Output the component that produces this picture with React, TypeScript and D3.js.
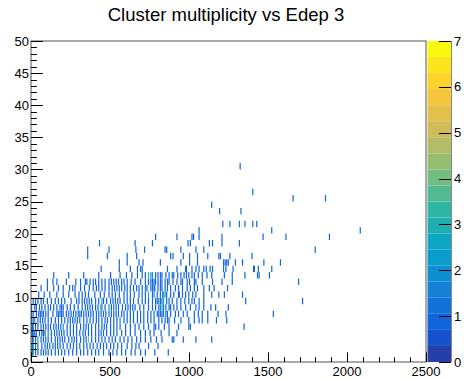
import React from "react";
import * as d3 from "d3";

// ---- data -------------------------------------------------------------
const title = "Cluster multiplicity vs Edep 3";
const xTicks = [0, 500, 1000, 1500, 2000, 2500];
const yTicks = [0, 5, 10, 15, 20, 25, 30, 35, 40, 45, 50];
const zTicks = [0, 1, 2, 3, 4, 5, 6, 7];
const edepBinWidth = 5;
const zMax = 7;

// edep values of occupied cells, one list per multiplicity bin (index = multiplicity)
const multRows: number[][] = [
  [],
  [0, 8, 13, 25, 44, 60, 76, 92, 108, 128, 150, 170, 193, 212, 235, 262, 288, 310, 331, 358, 384, 405, 426, 455, 490, 515, 543, 570, 596, 630, 659, 690, 723, 780, 867],
  [0, 8, 13, 28, 44, 66, 87, 103, 119, 135, 150, 166, 182, 203, 225, 246, 267, 288, 309, 330, 352, 373, 394, 415, 437, 458, 479, 500, 521, 548, 574, 606, 638, 660, 680, 740, 803],
  [0, 8, 13, 28, 44, 60, 76, 92, 108, 128, 150, 166, 182, 198, 214, 235, 256, 272, 288, 310, 331, 346, 362, 384, 405, 426, 447, 468, 490, 511, 532, 560, 585, 612, 638, 665, 691, 720, 755, 790, 829, 892, 903, 960, 1041, 1140],
  [0, 8, 13, 24, 34, 50, 66, 76, 87, 108, 129, 145, 161, 177, 193, 209, 225, 246, 267, 288, 309, 325, 341, 362, 384, 405, 426, 442, 458, 479, 500, 521, 543, 570, 596, 627, 659, 690, 723, 750, 776, 822, 870, 924],
  [0, 8, 13, 28, 44, 60, 76, 92, 108, 124, 140, 156, 172, 188, 203, 225, 246, 267, 288, 310, 331, 346, 362, 384, 405, 426, 447, 463, 479, 500, 521, 543, 564, 595, 627, 655, 680, 712, 744, 776, 786, 808, 840, 871, 930, 998, 1009, 1348],
  [2, 13, 23, 40, 55, 70, 87, 108, 129, 150, 172, 193, 214, 230, 246, 262, 278, 294, 309, 330, 352, 373, 394, 410, 426, 447, 468, 484, 500, 521, 543, 564, 585, 606, 627, 648, 670, 690, 712, 735, 755, 776, 808, 829, 845, 861, 871, 905, 945, 998, 1030, 1062, 1083, 1115, 1170, 1236],
  [0, 13, 34, 45, 55, 66, 76, 92, 108, 135, 161, 172, 182, 193, 203, 220, 235, 251, 267, 283, 299, 315, 331, 346, 362, 378, 394, 410, 426, 442, 458, 474, 490, 505, 521, 537, 553, 570, 585, 606, 627, 648, 670, 690, 712, 735, 755, 776, 797, 808, 818, 829, 839, 850, 861, 882, 914, 931, 960, 988, 1030, 1058, 1083, 1115, 1180, 1232, 1533],
  [0, 20, 34, 50, 66, 87, 108, 124, 140, 161, 182, 193, 203, 225, 246, 272, 299, 320, 341, 357, 373, 389, 405, 421, 437, 447, 468, 490, 505, 521, 537, 553, 575, 596, 612, 627, 643, 659, 685, 712, 740, 765, 786, 808, 818, 829, 839, 850, 871, 882, 903, 924, 945, 977, 1009, 1041, 1062, 1094, 1136, 1168, 1249],
  [10, 28, 44, 60, 76, 103, 129, 150, 172, 193, 214, 250, 288, 304, 320, 336, 352, 368, 384, 405, 426, 445, 458, 479, 500, 516, 532, 548, 564, 585, 606, 627, 649, 675, 702, 723, 744, 765, 786, 797, 808, 818, 829, 839, 855, 871, 892, 924, 945, 970, 998, 1015, 1030, 1062, 1094, 1355, 1715],
  [45, 82, 119, 160, 200, 235, 278, 300, 320, 341, 362, 400, 437, 463, 490, 511, 532, 558, 585, 606, 627, 654, 680, 700, 723, 744, 769, 776, 797, 818, 833, 839, 846, 856, 880, 903, 931, 939, 956, 975, 998, 1020, 1041, 1094, 1140, 1189, 1221, 1338],
  [60, 100, 140, 170, 203, 242, 260, 278, 310, 337, 365, 390, 410, 426, 447, 468, 490, 511, 527, 543, 558, 574, 590, 606, 627, 649, 665, 680, 700, 723, 733, 755, 765, 776, 782, 803, 818, 829, 845, 861, 882, 914, 931, 956, 985, 1009, 1030, 1051, 1090, 1126, 1157, 1242],
  [104, 135, 161, 220, 282, 310, 341, 352, 373, 390, 405, 426, 447, 468, 490, 505, 521, 537, 553, 570, 585, 606, 630, 659, 690, 723, 740, 755, 765, 776, 786, 800, 818, 829, 845, 861, 871, 897, 924, 945, 956, 988, 1003, 1030, 1041, 1083, 1147, 1206, 1274, 1694],
  [140, 235, 330, 426, 500, 560, 600, 638, 670, 702, 720, 744, 755, 765, 769, 786, 803, 816, 829, 850, 870, 892, 903, 925, 945, 965, 981, 998, 1015, 1030, 1058, 1083, 1110, 1140, 1221, 1274, 1352, 1433, 1444, 1507],
  [443, 557, 627, 670, 691, 702, 861, 924, 977, 981, 1015, 1041, 1062, 1090, 1109, 1132, 1147, 1215, 1232, 1278, 1405, 1414, 1435, 1520],
  [558, 606, 680, 706, 818, 945, 1000, 1051, 1215, 1227, 1238, 1249, 1291, 1338, 1473, 1575],
  [358, 483, 606, 668, 880, 899, 964, 1000, 1051, 1115, 1185, 1196, 1257, 1397],
  [358, 490, 663, 716, 846, 856, 945, 1041, 1094, 1798],
  [430, 658, 769, 990, 1007, 1126, 1145, 1206, 1316],
  [789, 922, 1015, 1026, 1064, 1206, 1469, 1613, 1885],
  [1064, 1524, 2082],
  [1213, 1258, 1317, 1351, 1404, 1427],
  [],
  [1192, 1327],
  [1141],
  [1656, 1860],
  [1404],
  [],
  [],
  [],
  [1321],
];

// cells with more than one entry: [edep, multiplicity, count]
const hotCells: [number, number, number][] = [
  [0, 1, 3], [0, 2, 3], [0, 3, 7], [0, 4, 2], [0, 5, 2], [13, 1, 2], [13, 2, 2],
  [23, 6, 2], [44, 3, 2], [108, 4, 2], [203, 5, 2], [309, 7, 2], [362, 3, 4],
  [437, 8, 4], [445, 9, 3], [490, 8, 2], [564, 6, 2], [723, 11, 2], [744, 10, 3],
  [744, 13, 3], [755, 13, 2], [776, 10, 2], [808, 9, 2], [818, 8, 2], [829, 8, 3],
  [839, 9, 3], [839, 10, 3], [846, 10, 2],
];

// ---- ROOT kBird palette ----------------------------------------------
const birdStops = [0.0, 0.125, 0.25, 0.375, 0.5, 0.625, 0.75, 0.875, 1.0];
const birdRed = [0.2082, 0.0592, 0.078, 0.0232, 0.1802, 0.5301, 0.8186, 0.9956, 0.9764];
const birdGreen = [0.1664, 0.3599, 0.5041, 0.6419, 0.7178, 0.7492, 0.7328, 0.7862, 0.9832];
const birdBlue = [0.5293, 0.8684, 0.8385, 0.7914, 0.6425, 0.4662, 0.3499, 0.1968, 0.0539];

function buildGradient(n: number): string[] {
  const out: string[] = [];
  for (let g = 1; g < birdStops.length; g++) {
    const nG = Math.floor(n * birdStops[g]) - Math.floor(n * birdStops[g - 1]);
    for (let c = 0; c < nG; c++) {
      const t = c / nG;
      const r = birdRed[g - 1] + t * (birdRed[g] - birdRed[g - 1]);
      const gg = birdGreen[g - 1] + t * (birdGreen[g] - birdGreen[g - 1]);
      const b = birdBlue[g - 1] + t * (birdBlue[g] - birdBlue[g - 1]);
      out.push(d3.rgb(r * 255, gg * 255, b * 255).formatHex());
    }
  }
  return out;
}
const gradient = buildGradient(255);
const nContours = 20;
function levelColor(level: number): string {
  let idx = Math.floor(((level + 0.99) * gradient.length) / nContours);
  if (idx > gradient.length - 1) idx = gradient.length - 1;
  return gradient[idx];
}
function zColor(z: number): string {
  let level = Math.floor(0.01 + (z * nContours) / zMax);
  if (level > nContours - 1) level = nContours - 1;
  return levelColor(level);
}

// ---- layout ------------------------------------------------------------
const W = 471, H = 379;
const X0 = 31, X1 = 426, Y0 = 41, Y1 = 362;
const PX0 = 427.5, PX1 = 451;
const FONT = "'Liberation Sans', Arial, Helvetica, sans-serif";

export default function App() {
  const x = d3.scaleLinear().domain([0, 2500]).range([X0, X1]);
  const y = d3.scaleLinear().domain([0, 50]).range([Y1, Y0]);
  const z = d3.scaleLinear().domain([0, zMax]).range([Y1, Y0]);

  const cellMap = new Map<string, { bin: number; m: number; c: number }>();
  multRows.forEach((row, m) => {
    row.forEach((e) => {
      const bin = Math.floor(e / edepBinWidth);
      const key = bin + "_" + m;
      const cur = cellMap.get(key);
      if (cur) cur.c += 1;
      else cellMap.set(key, { bin, m, c: 1 });
    });
  });
  hotCells.forEach(([e, m, c]) => {
    const bin = Math.floor(e / edepBinWidth);
    cellMap.set(bin + "_" + m, { bin, m, c });
  });
  const cells = Array.from(cellMap.values());

  const xMinor = d3.range(0, 2501, 100);
  const yMinor = d3.range(0, 51, 1);
  const levels = d3.range(nContours);
  const dz = zMax / nContours;
  const cellW = Math.max(x(edepBinWidth) - x(0), 1.2);

  return (
    <svg width={W} height={H} style={{ position: "absolute", left: 0, top: 0, background: "#fff" }}>
      <rect x={0} y={0} width={W} height={H} fill="#fff" />
      {/* cells */}
      <g>
        {cells.map((d, i) => (
          <rect
            key={i}
            x={x(d.bin * edepBinWidth)}
            y={y(d.m + 1)}
            width={cellW}
            height={y(d.m) - y(d.m + 1)}
            fill={zColor(d.c)}
          />
        ))}
      </g>
      {/* frame */}
      <rect x={X0} y={Y0} width={X1 - X0} height={Y1 - Y0} fill="none" stroke="#555" strokeWidth={1} />
      {/* ticks */}
      <g stroke="#000" strokeWidth={1}>
        {xMinor.map((v) => {
          const major = v % 500 === 0;
          const xx = Math.round(x(v)) + 0.5;
          return <line key={"xt" + v} x1={xx} x2={xx} y1={Y1} y2={Y1 - (major ? 9.6 : 4.8)} />;
        })}
        {yMinor.map((v) => {
          const major = v % 5 === 0;
          const yy = Math.round(y(v)) + 0.5;
          return <line key={"yt" + v} x1={X0} x2={X0 + (major ? 11.9 : 5.9)} y1={yy} y2={yy} />;
        })}
      </g>
      <g fontFamily={FONT} fontSize={13} fill="#000">
        {xTicks.map((v) => (
          <text key={"xl" + v} x={x(v)} y={376} textAnchor="middle">
            {v}
          </text>
        ))}
        {yTicks.map((v) => (
          <text key={"yl" + v} x={29} y={y(v)} textAnchor="end" dominantBaseline="central">
            {v}
          </text>
        ))}
      </g>
      {/* palette */}
      <g>
        {levels.map((i) => (
          <rect
            key={"p" + i}
            x={PX0}
            y={z((i + 1) * dz)}
            width={PX1 - PX0}
            height={z(i * dz) - z((i + 1) * dz)}
            fill={levelColor(i)}
          />
        ))}
        <line x1={PX1 + 0.5} x2={PX1 + 0.5} y1={Y0} y2={Y1} stroke="#888" strokeWidth={1} />
        <g stroke="#000" strokeWidth={1}>
          {zTicks.map((v) => {
            const yy = Math.round(z(v)) + 0.5;
            return <line key={"zt" + v} x1={PX1} x2={PX1 - 12} y1={yy} y2={yy} />;
          })}
        </g>
        <g fontFamily={FONT} fontSize={13} fill="#000">
          {zTicks.map((v) => (
            <text key={"zl" + v} x={454} y={z(v)} dominantBaseline="central">
              {v}
            </text>
          ))}
        </g>
      </g>
      <text x={226} y={21} textAnchor="middle" fontFamily={FONT} fontSize={18.5} fill="#000">
        {title}
      </text>
    </svg>
  );
}
